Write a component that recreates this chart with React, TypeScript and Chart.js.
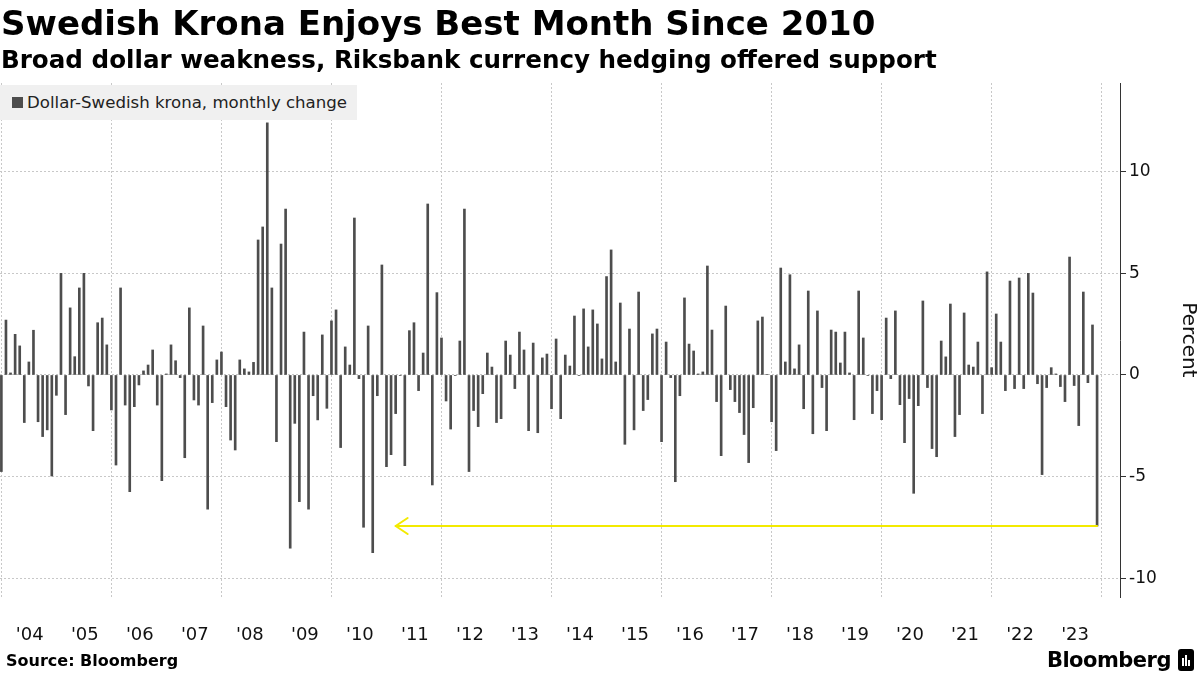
import React, { useEffect, useRef } from "react";
import { Chart, registerables } from "chart.js";

Chart.register(...registerables);

// Monthly change of Dollar-Swedish krona, in percent.
// First value = Dec 2003, last value = Nov 2023 (one row per 12 months).
const MONTHLY_CHANGE: number[] = [
  -4.75, 2.7, 0.1, 2.0, 1.43, -2.34, 0.64, 2.2, -2.3, -3.03, -2.7, -4.97,
  -1.0, 5.0, -1.95, 3.3, 0.9, 4.28, 5.0, -0.54, -2.74, 2.57, 2.8, 1.48,
  -1.72, -4.43, 4.28, -1.48, -5.74, -1.56, -0.49, 0.2, 0.49, 1.23, -1.48, -5.2,
  0.05, 1.48, 0.7, -0.13, -4.07, 3.3, -1.23, -1.48, 2.41, -6.6, -1.36, 0.74,
  1.13, -1.56, -3.2, -3.69, 0.74, 0.3, 0.15, 0.62, 6.64, 7.28, 12.4, 4.28,
  -3.28, 6.44, 8.16, -8.52, -2.38, -6.23, 2.11, -6.6, -1.02, -2.21, 1.97, -1.64,
  2.66, 3.2, -3.57, 1.38, 0.49, 7.72, -0.18, -7.49, 2.41, -8.74, -1.02, 5.41,
  -4.51, -3.92, -1.9, -0.03, -4.46, 2.18, 2.57, -0.77, 1.08, 8.41, -5.41, 4.05,
  1.82, -1.28, -2.66, -0.03, 1.67, 8.16, -4.75, -1.75, -2.54, -0.92, 1.08, 0.39,
  -2.34, -2.15, 1.67, 0.98, -0.67, 2.11, 1.23, -2.74, 1.57, -2.84, 0.84, 1.03,
  -1.66, 1.77, -2.15, 0.98, 0.44, 2.9, -0.03, 3.25, 1.38, 3.2, 2.51, 0.79,
  4.84, 6.15, 0.64, 3.54, -3.41, 2.26, -2.7, 4.08, -1.75, -1.21, 2.02, 2.26,
  -3.28, 1.62, -0.13, -5.25, -1.02, 3.79, 1.52, 1.18, 0.05, 0.15, 5.36, 2.21,
  -1.31, -3.97, 3.39, -0.72, -1.31, -1.85, -2.93, -4.31, -1.61, 2.66, 2.85, 0.02,
  -2.3, -3.72, 5.26, 0.64, 4.93, 0.3, 1.48, -1.66, 4.13, -2.89, 3.15, -0.62,
  -2.74, 2.21, 2.11, 0.59, 2.11, 0.1, -2.2, 4.13, 1.82, -0.02, -1.9, -0.77,
  -2.2, 2.8, -0.18, 3.15, -1.46, -3.33, -1.16, -5.82, -1.51, 3.64, -0.62, -3.62,
  -4.02, 1.67, 0.89, 3.49, -3.03, -1.95, 3.05, 0.49, 0.39, 1.62, -1.9, 5.07,
  0.36, 3.0, 1.62, -0.77, 4.62, -0.67, 4.77, -0.67, 5.0, 4.03, -0.43, -4.9,
  -0.62, 0.36, 0.05, -0.57, -1.31, 5.8, -0.52, -2.49, 4.08, -0.38, 2.46, -7.43,
];

const YEAR_LABELS: string[] = [
  "'04", "'05", "'06", "'07", "'08", "'09", "'10", "'11", "'12", "'13",
  "'14", "'15", "'16", "'17", "'18", "'19", "'20", "'21", "'22", "'23",
];

const Y_TICKS: number[] = [-10, -5, 0, 5, 10];

// month index the yellow arrow points to (late 2010)
const ARROW_TARGET_INDEX = 86;

const SERIES_LABEL = "Dollar-Swedish krona, monthly change";

const FONT = "'DejaVu Sans', 'Noto Sans', sans-serif";

const arrowPlugin = {
  id: "yellowArrow",
  afterDatasetsDraw(chart: any) {
    const { ctx, scales } = chart;
    const xs = scales.x;
    const ys = scales.y;
    const last = MONTHLY_CHANGE.length - 1;
    const x1 = xs.getPixelForValue(last);
    const yv = ys.getPixelForValue(MONTHLY_CHANGE[last]);
    const x0 = xs.getPixelForValue(ARROW_TARGET_INDEX);
    ctx.save();
    ctx.strokeStyle = "#f3ea00";
    ctx.lineWidth = 2;
    ctx.lineCap = "round";
    ctx.lineJoin = "round";
    ctx.beginPath();
    ctx.moveTo(x1, yv);
    ctx.lineTo(x0, yv);
    ctx.stroke();
    ctx.beginPath();
    ctx.moveTo(x0 + 12, yv - 8);
    ctx.lineTo(x0, yv);
    ctx.lineTo(x0 + 12, yv + 8);
    ctx.stroke();
    ctx.restore();
  },
};

export default function App() {
  const canvasRef = useRef<HTMLCanvasElement | null>(null);

  useEffect(() => {
    if (!canvasRef.current) return;
    const n = MONTHLY_CHANGE.length;
    const data = MONTHLY_CHANGE.map((v, i) => ({ x: i, y: v }));
    const xMin = -0.3;
    const xMax = n + 4;

    const chart = new Chart(canvasRef.current, {
      type: "bar",
      data: {
        datasets: [
          {
            label: SERIES_LABEL,
            data: data as any,
            backgroundColor: "#4d4d4d",
            borderWidth: 0,
            barThickness: 2,
          },
        ],
      },
      options: {
        animation: false,
        responsive: false,
        maintainAspectRatio: false,
        layout: { padding: { top: 83, left: 0, right: 0, bottom: 0 } },
        plugins: {
          legend: { display: false },
          tooltip: { enabled: false },
          title: { display: false },
        },
        scales: {
          x: {
            type: "linear",
            position: "bottom",
            offset: false,
            min: xMin,
            max: xMax,
            afterBuildTicks: (scale: any) => {
              scale.ticks = YEAR_LABELS.map((_, k) => ({ value: 12 * k + 6.2 }));
            },
            afterFit: (scale: any) => {
              scale.height = 63;
            },
            ticks: {
              autoSkip: false,
              maxRotation: 0,
              minRotation: 0,
              padding: 0,
              color: "#111",
              font: { family: FONT, size: 18 },
              callback: (_v: any, idx: number) => YEAR_LABELS[idx],
            },
            grid: { display: false, drawTicks: true, tickLength: 28, offset: false },
            border: { display: false },
          },
          x2: {
            type: "linear",
            position: "top",
            offset: false,
            min: xMin,
            max: xMax,
            afterBuildTicks: (scale: any) => {
              const t: any[] = [];
              for (let v = 0; v <= n; v += 24) t.push({ value: v });
              scale.ticks = t;
            },
            afterFit: (scale: any) => {
              scale.height = 0;
            },
            ticks: { display: false, padding: 0 },
            grid: {
              display: true,
              drawTicks: false,
              offset: false,
              color: "#c8c8c8",
              lineWidth: 1,
            },
            border: { display: false, dash: [2, 2] },
          },
          y: {
            type: "linear",
            position: "right",
            min: -10.92,
            max: 14.36,
            afterBuildTicks: (scale: any) => {
              scale.ticks = Y_TICKS.map((v) => ({ value: v }));
            },
            afterFit: (scale: any) => {
              scale.width = 80;
            },
            ticks: {
              color: "#111",
              padding: 3,
              font: { family: FONT, size: 17 },
              callback: (v: any) => String(v),
            },
            grid: {
              color: "#c8c8c8",
              lineWidth: 1,
              drawTicks: true,
              tickLength: 6,
              tickColor: "#333",
              tickBorderDash: [],
            } as any,
            border: { display: true, color: "#333", width: 1, dash: [2, 2] },
            title: {
              display: true,
              text: "Percent",
              color: "#111",
              font: { family: FONT, size: 20 },
              padding: { top: 0, bottom: 0 },
            },
          },
        },
      } as any,
      plugins: [arrowPlugin],
    });

    return () => chart.destroy();
  }, []);

  return (
    <div
      style={{
        position: "fixed",
        left: 0,
        top: 0,
        width: 1200,
        height: 675,
        background: "#fff",
        overflow: "hidden",
        fontFamily: FONT,
      }}
    >
      <canvas
        ref={canvasRef}
        width={1200}
        height={660}
        style={{ position: "absolute", left: 0, top: 0, width: 1200, height: 660 }}
      />
      <div
        style={{
          position: "absolute",
          left: 1,
          top: 3,
          fontSize: 34,
          fontWeight: "bold",
          color: "#000",
          lineHeight: "40px",
          whiteSpace: "nowrap",
        }}
      >
        Swedish Krona Enjoys Best Month Since 2010
      </div>
      <div
        style={{
          position: "absolute",
          left: 1,
          top: 45,
          fontSize: 24.6,
          fontWeight: "bold",
          color: "#000",
          lineHeight: "30px",
          whiteSpace: "nowrap",
        }}
      >
        Broad dollar weakness, Riksbank currency hedging offered support
      </div>
      <div
        style={{
          position: "absolute",
          left: 0,
          top: 85,
          width: 357,
          height: 35,
          background: "#f0f0f0",
          display: "flex",
          alignItems: "center",
        }}
      >
        <span
          style={{
            display: "inline-block",
            width: 11,
            height: 11,
            background: "#4d4d4d",
            marginLeft: 12,
            marginRight: 4,
          }}
        />
        <span style={{ fontSize: 16.6, color: "#222", whiteSpace: "nowrap" }}>{SERIES_LABEL}</span>
      </div>
      <div
        style={{
          position: "absolute",
          left: 6,
          top: 651,
          fontSize: 16,
          fontWeight: "bold",
          color: "#000",
          lineHeight: "20px",
        }}
      >
        Source: Bloomberg
      </div>
      <div
        style={{
          position: "absolute",
          right: 6,
          top: 647,
          display: "flex",
          alignItems: "center",
          gap: 7,
        }}
      >
        <span
          style={{
            fontSize: 21,
            fontWeight: "bold",
            color: "#000",
            letterSpacing: -0.5,
            lineHeight: "26px",
          }}
        >
          Bloomberg
        </span>
        <span
          style={{
            display: "inline-block",
            width: 16,
            height: 22,
            background: "#000",
            borderRadius: 3,
            position: "relative",
          }}
        >
          <span style={{ position: "absolute", left: 4, top: 9, width: 2, height: 8, background: "#fff" }} />
          <span style={{ position: "absolute", left: 7, top: 6, width: 2, height: 11, background: "#fff" }} />
          <span style={{ position: "absolute", left: 10, top: 11, width: 2, height: 6, background: "#fff" }} />
        </span>
      </div>
    </div>
  );
}
